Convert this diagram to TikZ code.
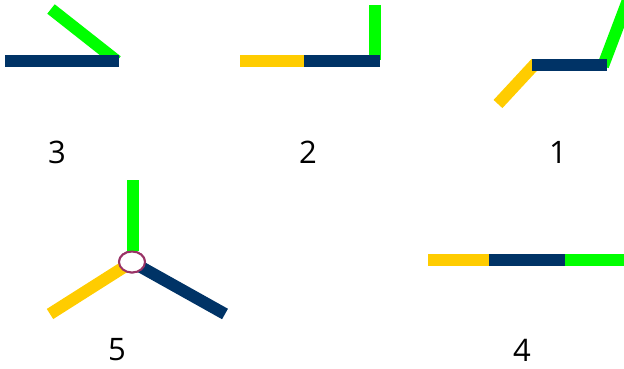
\documentclass[tikz,border=0pt]{standalone}
\usepackage{fontspec}
\setmainfont{Open Sans}
\usepackage{tikz}
\usetikzlibrary{positioning,calc,shapes.geometric}
\definecolor{barblue}{RGB}{0,51,102}
\definecolor{bargreen}{RGB}{0,255,0}
\definecolor{baryellow}{RGB}{255,204,0}
\definecolor{jointred}{RGB}{153,51,102}

\begin{document}
\begin{tikzpicture}[x=1pt, y=-1pt,
    bar/.style={line width=12pt, line cap=butt},
    bluebar/.style={bar, draw=barblue},
    greenbar/.style={bar, draw=bargreen},
    yellowbar/.style={bar, draw=baryellow},
    joint/.style={ellipse, draw=jointred, fill=white, line width=2pt, minimum width=26pt, minimum height=21pt, inner sep=0pt},
    num/.style={font=\fontsize{31}{31}\selectfont}
]
\useasboundingbox (0,0) rectangle (624,369);
\clip (0,0) rectangle (624,369);

\coordinate (a3) at (5,61);
\coordinate (b3) at (119,61);
\coordinate (g3) at (51,9);
\draw[greenbar] (g3) -- (117,61) coordinate (k3);
\draw[bluebar] (a3) -- (b3);
\node[num] (n3) at (57,152) {3};

\coordinate (y2) at (240,61);
\coordinate (m2) at (304,61);
\coordinate (b2) at (380,61);
\coordinate (g2) at (375,5);
\draw[greenbar] (g2) -- (375,60) coordinate (k2);
\draw[yellowbar] (y2) -- (m2);
\draw[bluebar] (m2) -- (b2);
\node[num] (n2) at (308,152) {2};

\coordinate (a1) at (532,65);
\coordinate (b1) at (607,65);
\coordinate (y1) at (498,104);
\coordinate (g1) at (628,0);
\draw[greenbar] (603,66) coordinate (k1) -- (g1);
\draw[yellowbar] (y1) -- (536,63) coordinate (j1);
\draw[bluebar] (a1) -- (b1);
\node[num] (n1) at (558,152) {1};

\node[joint] (c5) at (132,262) {};
\coordinate (g5) at (133,180);
\coordinate (y5) at (50,314);
\coordinate (b5) at (225,314);
\draw[greenbar] (g5) -- (c5.north -| g5);
\draw[yellowbar] (y5) -- (c5.center);
\draw[bluebar] (b5) -- (c5.center);
\node[joint] at (c5) {};
\node[num] (n5) at (117,350) {5};

\coordinate (y4) at (428,260);
\coordinate (m4) at (489,260);
\coordinate (p4) at (565,260);
\coordinate (g4) at (624,260);
\draw[yellowbar] (y4) -- (m4);
\draw[bluebar] (m4) -- (p4);
\draw[greenbar] (p4) -- (g4);
\node[num] (n4) at (522,350) {4};
\end{tikzpicture}
\end{document}
